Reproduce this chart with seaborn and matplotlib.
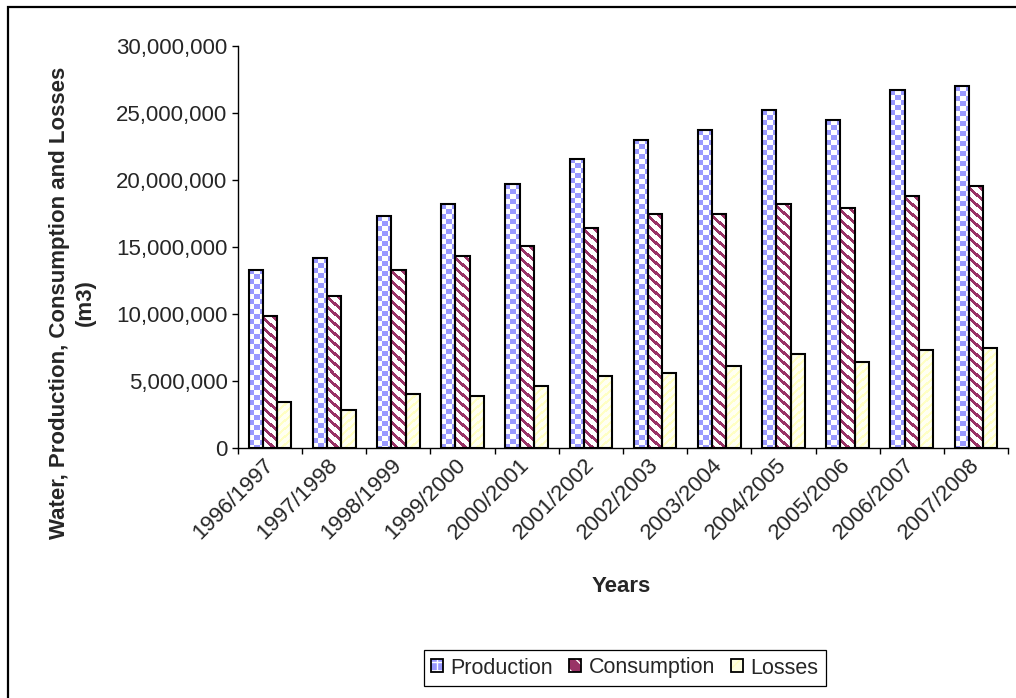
import numpy as np
import pandas as pd
import matplotlib
matplotlib.use("Agg")
import matplotlib.pyplot as plt
from matplotlib.patches import Patch, Rectangle
from matplotlib.legend_handler import HandlerTuple
from matplotlib.ticker import FuncFormatter
import seaborn as sns

# ---- data (m3 per year) ----
years = ["1996/1997", "1997/1998", "1998/1999", "1999/2000", "2000/2001", "2001/2002",
         "2002/2003", "2003/2004", "2004/2005", "2005/2006", "2006/2007", "2007/2008"]
production = [13_300_000, 14_150_000, 17_300_000, 18_200_000, 19_700_000, 21_600_000,
              23_000_000, 23_700_000, 25_200_000, 24_450_000, 26_700_000, 27_000_000]
consumption = [9_850_000, 11_350_000, 13_300_000, 14_300_000, 15_050_000, 16_400_000,
               17_450_000, 17_450_000, 18_200_000, 17_900_000, 18_800_000, 19_550_000]
losses = [3_400_000, 2_800_000, 4_000_000, 3_850_000, 4_600_000, 5_350_000,
          5_600_000, 6_100_000, 7_000_000, 6_450_000, 7_350_000, 7_500_000]
series = ["Production", "Consumption", "Losses"]

df = pd.DataFrame({
    "year": years * 3,
    "series": [s for s in series for _ in years],
    "value": production + consumption + losses,
})

sns.set_theme(style="white")
plt.rcParams["font.family"] = ["Liberation Sans", "DejaVu Sans"]
FS = 16
FS_LEG = 15.5

W, H = 1016, 698
fig = plt.figure(figsize=(W / 100, H / 100), dpi=100)
ax = fig.add_axes([238 / W, 1 - 448 / H, (1008 - 238) / W, (448 - 46) / H])

sns.barplot(data=df, x="year", y="value", hue="series", hue_order=series,
            order=years, width=0.667, gap=0, errorbar=None, legend=False, ax=ax,
            palette=["#9999FF", "#993366", "#FFFFCC"])

ax.set_xlim(-0.5, len(years) - 0.5)
ax.set_ylim(0, 30_000_000)


# ---- fill textures for each series ----
def checker(h, w, s=5):
    i, j = np.mgrid[0:h, 0:w]
    m = ((i // s + j // s) % 2) == 0
    img = np.ones((h, w, 3))
    img[m] = np.array([0x99, 0x99, 0xFF]) / 255
    return img


def stripes(h, w, period, thick, fg, bg, direction):
    i, j = np.mgrid[0:h, 0:w]
    k = (i - j) if direction == "back" else (i + j)
    m = (k % period) < thick
    img = np.empty((h, w, 3))
    img[:] = np.array(bg) / 255
    img[m] = np.array(fg) / 255
    return img


def texture(kind, h, w):
    if kind == 0:
        return checker(h, w)
    if kind == 1:
        return stripes(h, w, 10, 4, (0x99, 0x33, 0x66), (255, 255, 255), "back")
    return stripes(h, w, 8, 3, (0xFF, 0xFF, 0xC4), (0xFF, 0xFF, 0xF2), "fwd")


for k, cont in enumerate(ax.containers):
    for bar in cont:
        x0, y0 = bar.get_x(), bar.get_y()
        bw, bh = bar.get_width(), bar.get_height()
        p0 = ax.transData.transform((x0, y0))
        p1 = ax.transData.transform((x0 + bw, y0 + bh))
        wpx = max(int(round(p1[0] - p0[0])), 1)
        hpx = max(int(round(p1[1] - p0[1])), 1)
        img = texture(k, hpx, wpx)
        im = ax.imshow(img, extent=[x0, x0 + bw, y0, y0 + bh], origin="upper",
                       interpolation="nearest", aspect="auto", zorder=1)
        im.set_clip_path(bar)
        bar.set_facecolor("none")
        bar.set_edgecolor("black")
        bar.set_linewidth(1.5)
        bar.set_zorder(2)

ax.set_xlim(-0.5, len(years) - 0.5)
ax.set_ylim(0, 30_000_000)
ax.set_aspect("auto")

# ---- axes styling ----
for side in ["top", "right"]:
    ax.spines[side].set_visible(False)
for side in ["left", "bottom"]:
    ax.spines[side].set_color("black")
    ax.spines[side].set_linewidth(1.0)

ax.set_yticks(np.arange(0, 30_000_001, 5_000_000))
ax.yaxis.set_major_formatter(FuncFormatter(lambda v, p: f"{int(v):,}"))
ax.tick_params(axis="y", direction="out", length=4.5, width=1.0, color="black",
               labelsize=FS, pad=3, left=True)

ax.set_xticks(np.arange(len(years)))
ax.set_xticklabels(years, rotation=45, ha="right", va="center", rotation_mode="anchor")
ax.set_xticks(np.arange(-0.5, len(years), 1), minor=True)
ax.tick_params(axis="x", which="major", length=0, labelsize=FS, pad=10)
ax.tick_params(axis="x", which="minor", direction="out", length=4.5, width=1.0,
               color="black", bottom=True)
ax.set_xlabel("")
ax.set_ylabel("")

fig.text(72 / W, 1 - 303 / H, "Water, Production, Consumption and Losses\n(m3)",
         rotation=90, ha="center", va="center", fontsize=FS, fontweight="bold",
         linespacing=1.3, multialignment="center")
fig.text(621 / W, 1 - 587 / H, "Years", ha="center", va="center",
         fontsize=FS, fontweight="bold")

# ---- legend ----
handles = [
    (Patch(facecolor="#9999FF", edgecolor="white", hatch="++", linewidth=0),
     Patch(facecolor="none", edgecolor="black", linewidth=1.3)),
    (Patch(facecolor="#993366", edgecolor="white", hatch="\\\\", linewidth=0),
     Patch(facecolor="none", edgecolor="black", linewidth=1.3)),
    (Patch(facecolor="#FFFFE0", edgecolor="#FFFFC0", hatch="//", linewidth=0),
     Patch(facecolor="none", edgecolor="black", linewidth=1.3)),
]
leg = fig.legend(handles, series, loc="center", ncol=3,
                 bbox_to_anchor=(625 / W, 1 - 668 / H), bbox_transform=fig.transFigure,
                 handler_map={tuple: HandlerTuple(ndivide=1, pad=0)},
                 fontsize=FS_LEG, frameon=True, fancybox=False, framealpha=1,
                 edgecolor="black", handlelength=0.55, handleheight=0.55,
                 handletextpad=0.35, columnspacing=0.75, borderpad=0.35,
                 borderaxespad=0)
leg.get_frame().set_linewidth(0.9)

# outer chart border (top and left edges visible inside the image)
fig.patches.append(Rectangle((8 / W, -0.05), 1.1, 1 - 7 / H + 0.05,
                             transform=fig.transFigure, fill=False,
                             edgecolor="black", linewidth=1.6, zorder=10))

fig.savefig("out.png", dpi=100)
